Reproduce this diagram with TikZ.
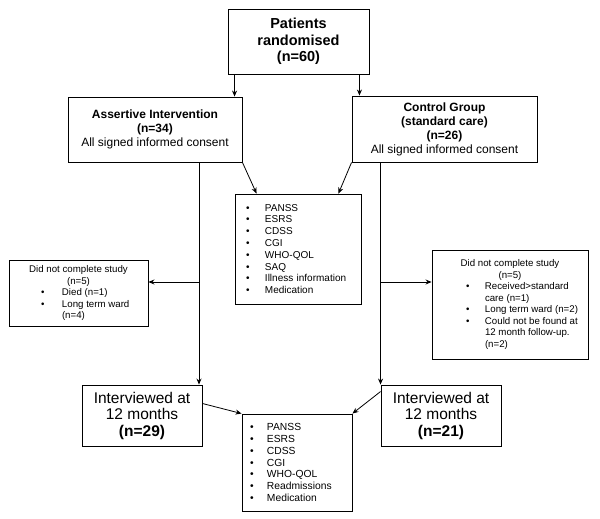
\documentclass[tikz,border=0pt]{standalone}
\usepackage{fontspec}
\setmainfont{Liberation Sans}
\usetikzlibrary{arrows.meta}
\newcommand{\itm}[2][18pt]{\makebox[#1][l]{\textbullet}#2}
\begin{document}
\begin{tikzpicture}[x=1pt, y=-1pt, >={Stealth[length=6pt,width=5pt]}, line width=0.8pt,
  box/.style={draw, rectangle, line width=0.9pt, inner sep=0pt},
  big/.style={font=\fontsize{15.5}{16.5}\selectfont, align=center},
  mid/.style={font=\fontsize{12}{14}\selectfont, align=center},
  small/.style={font=\fontsize{9.7}{11.5}\selectfont, align=left},
  list/.style={font=\fontsize{10}{11.8}\selectfont, align=left}]
\useasboundingbox (0,0) rectangle (600,519);
\node[box, big, font=\fontsize{14.5}{16.7}\selectfont\bfseries, minimum width=141pt, minimum height=65pt] (top) at (298.5,41.5) {Patients\\randomised\\(n=60)};
\node[box, mid, minimum width=174pt, minimum height=65pt] (assert) at (155,129.5) {\textbf{Assertive Intervention}\\\textbf{(n=34)}\\All signed informed consent};
\node[box, mid, minimum width=185pt, minimum height=66pt] (control) at (444.5,129) {\textbf{Control Group}\\\textbf{(standard care)}\\\textbf{(n=26)}\\All signed informed consent};
\node[box, list, text width=104pt, minimum width=126pt, minimum height=110pt] (base) at (298,249) {\itm[19pt]{PANSS}\\\itm[19pt]{ESRS}\\\itm[19pt]{CDSS}\\\itm[19pt]{CGI}\\\itm[19pt]{WHO-QOL}\\\itm[19pt]{SAQ}\\\itm[19pt]{Illness information}\\\itm[19pt]{Medication}};
\node[box, small, minimum width=139pt, minimum height=66pt] (dropA) at (78.5,293) {\makebox[121pt]{Did not complete study}\\\makebox[121pt]{(n=5)}\\\makebox[121pt][l]{\hspace*{23pt}\itm[21pt]{Died (n=1)}}\\\makebox[121pt][l]{\hspace*{23pt}\itm[21pt]{Long term ward}}\\\makebox[121pt][l]{\hspace*{44pt}(n=4)}};
\node[box, small, minimum width=156pt, minimum height=109pt] (dropC) at (510,304.5) {\makebox[136pt]{Did not complete study}\\\makebox[136pt]{(n=5)}\\\makebox[136pt][l]{\hspace*{24pt}\itm[19pt]{Received>standard}}\\\makebox[136pt][l]{\hspace*{43pt}care (n=1)}\\\makebox[136pt][l]{\hspace*{24pt}\itm[19pt]{Long term ward (n=2)}}\\\makebox[136pt][l]{\hspace*{24pt}\itm[19pt]{Could not be found at}}\\\makebox[136pt][l]{\hspace*{43pt}12 month follow-up.}\\\makebox[136pt][l]{\hspace*{43pt}(n=2)}};
\node[box, big, minimum width=120pt, minimum height=61pt] (intA) at (142,415.5) {Interviewed at\\12 months\\\textbf{(n=29)}};
\node[box, big, minimum width=120pt, minimum height=61pt] (intC) at (441,415.5) {Interviewed at\\12 months\\\textbf{(n=21)}};
\node[box, list, font=\fontsize{10.3}{11.9}\selectfont, text width=94pt, minimum width=110pt, minimum height=97pt] (follow) at (297,462.5) {\itm[17pt]{PANSS}\\\itm[17pt]{ESRS}\\\itm[17pt]{CDSS}\\\itm[17pt]{CGI}\\\itm[17pt]{WHO-QOL}\\\itm[17pt]{Readmissions}\\\itm[17pt]{Medication}};
% randomisation
\draw[->] ([xshift=7pt]top.south west) -- ([xshift=7pt]top.south west |- assert.north);
\draw[->] ([xshift=-10pt]top.south east) -- ([xshift=-10pt]top.south east |- control.north);
% baseline measures
\draw[->] (assert.south east) -- ([xshift=22pt]base.north west);
\draw[->] (control.south west) -- ([xshift=-23pt]base.north east);
% follow-up, intervention arm
\draw[->] ([xshift=44pt]assert.south) -- ([xshift=44pt]assert.south |- intA.north);
\draw[->] ([xshift=44pt]assert.south |- dropA.east) ++(0,-11) -- ([yshift=11pt]dropA.east);
% follow-up, control arm
\draw[->] (intC.north west |- control.south) -- (intC.north west);
\draw[->] (intC.north west |- dropC.west) ++(0,-22.5) -- ([yshift=22.5pt]dropC.west);
% 12 month measures
\draw[->] ([yshift=12pt]intA.east) -- (follow.north west);
\draw[->] ([yshift=-7pt]intC.north west) -- (follow.north east);
\end{tikzpicture}
\end{document}
